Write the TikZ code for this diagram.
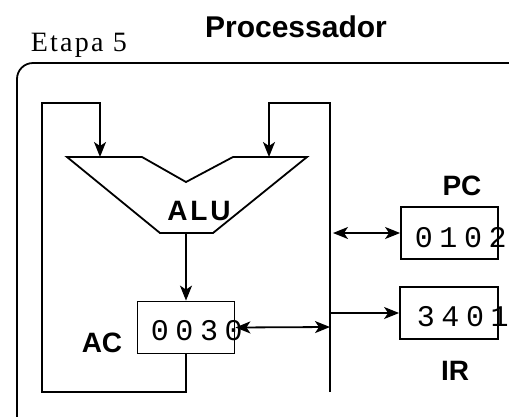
\documentclass[tikz,border=0pt]{standalone}
\usepackage{fontspec}
\setmainfont{Liberation Serif}
\newfontfamily\lblfont{Liberation Sans}
\newfontfamily\alufont[LetterSpace=10]{Liberation Sans}
\newfontfamily\digfont[LetterSpace=22]{Liberation Mono}
\newfontfamily\etapafont[LetterSpace=8]{Liberation Serif}
\usetikzlibrary{arrows.meta}
\begin{document}
\begin{tikzpicture}[x=1pt,y=-1pt, line width=1.8pt,
  arr/.style={-{Stealth[length=15pt,width=12pt,inset=4pt]}},
  darr/.style={{Stealth[length=15pt,width=12pt,inset=4pt]}-{Stealth[length=15pt,width=12pt,inset=4pt]}},
  reg/.style={draw, minimum width=97pt, minimum height=52pt, inner sep=0pt},
  lbl/.style={font=\lblfont\bfseries\fontsize{28}{30}\selectfont, inner sep=0pt, anchor=base},
  dig/.style={font=\digfont\fontsize{30}{32}\selectfont, inner sep=0pt, anchor=base west}]
\useasboundingbox (0,0) rectangle (509,416);
\clip (0,0) rectangle (509,416);
% titles
\node[font=\etapafont\fontsize{28}{30}\selectfont, inner sep=0pt, anchor=base west] (etapa) at (30,51) {Etapa 5};
\node[font=\lblfont\bfseries\fontsize{30}{32}\selectfont, inner sep=0pt, anchor=base] (title) at (296,37) {Processador};
% outer frame
\draw[rounded corners=16pt] (17,63) rectangle (545,432);
% ALU
\draw (67,157) -- (142,157) -- (186,182) -- (233,157) -- (307,157) -- (213,233) -- (160,233) -- cycle;
\coordinate (aluInA) at (100,157);
\coordinate (aluInB) at (269,157);
\coordinate (aluOut) at (186,233);
\node[font=\alufont\bfseries\fontsize{28}{30}\selectfont, inner sep=0pt, anchor=base] (alulbl) at (199,220) {ALU};
% registers
\node[reg] (ac) at (186,327.5) {};
\node[reg] (pc) at (449.5,233) {};
\node[reg, minimum width=98pt] (ir) at (449,313) {};
\node[dig] (acval) at (150,340) {0030};
\node[dig] (pcval) at (414,247) {0102};
\node[dig] (irval) at (416,326) {3401};
\node[lbl] (aclbl) at (102,352) {AC};
\node[lbl] (pclbl) at (462,195) {PC};
\node[lbl] (irlbl) at (455,380) {IR};
% bus
\coordinate (busTop) at (330,103);
\coordinate (busBot) at (330,392);
\coordinate (busAC) at (330,327);
\coordinate (busIR) at (330,313);
\coordinate (busPC) at (333,233);
\coordinate (lbA) at (186,392);
\coordinate (lbB) at (42,392);
\coordinate (lbC) at (42,103);
\coordinate (lbD) at (100,103);
\coordinate (rbA) at (269,103);
% connectors
\draw[arr] (ac.south) -- (lbA) -- (lbB) -- (lbC) -- (lbD) -- (aluInA);
\draw[arr] (busBot) -- (busTop) -- (rbA) -- (aluInB);
\draw[arr] (aluOut) -- (ac.north);
\draw[darr] (ac.east) -- (busAC);
\draw[darr] (busPC) -- (pc.west);
\draw[arr] (busIR) -- (ir.west);
\end{tikzpicture}
\end{document}
